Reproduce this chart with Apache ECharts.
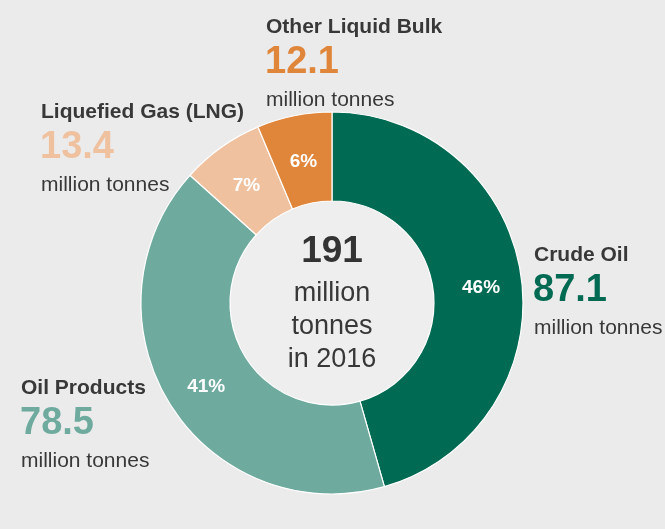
<!DOCTYPE html>
<html>
<head>
<meta charset="utf-8">
<script src="https://cdn.jsdelivr.net/npm/echarts@6/dist/echarts.min.js"></script>
<style>
  html, body { margin: 0; padding: 0; background: #ebebeb; }
  #chart { width: 665px; height: 529px; }
</style>
</head>
<body>
<div id="chart"></div>
<script>
const categories = ['Crude Oil', 'Oil Products', 'Liquefied Gas (LNG)', 'Other Liquid Bulk']
const values = [87.1, 78.5, 13.4, 12.1]
const colors = ['#006a52', '#6eab9e', '#efc19f', '#e0863b']
const unitText = 'million tonnes'
const totalText = '191'
const centerLines = ['million', 'tonnes', 'in 2016']

const chart = echarts.init(document.getElementById('chart'))
const FONT = '"Liberation Sans", Arial, sans-serif'

// where the outer label blocks sit (left edge, middle of the name line)
const labelPos = [
  [534, 255],
  [21, 388],
  [41, 112],
  [266, 27],
]

const graphics = []
categories.forEach((name, i) => {
  const [x, y] = labelPos[i]
  graphics.push({
    type: 'text', x: x, y: y, z: 100,
    style: { text: name, fill: '#383838', font: 'bold 21px ' + FONT, verticalAlign: 'middle' },
  })
  graphics.push({
    type: 'text', x: x - 1, y: y + 36, z: 100,
    style: { text: values[i].toFixed(1), fill: colors[i], font: 'bold 38px ' + FONT, verticalAlign: 'middle' },
  })
  graphics.push({
    type: 'text', x: x, y: y + 73, z: 100,
    style: { text: unitText, fill: '#383838', font: '21px ' + FONT, verticalAlign: 'middle' },
  })
})

// center text
graphics.push({
  type: 'text', x: 332, y: 252, z: 100,
  style: { text: totalText, fill: '#333', font: 'bold 37px ' + FONT, align: 'center', verticalAlign: 'middle' },
})
centerLines.forEach((t, i) => {
  graphics.push({
    type: 'text', x: 332, y: 294 + i * 33, z: 100,
    style: { text: t, fill: '#383838', font: '27px ' + FONT, align: 'center', verticalAlign: 'middle' },
  })
})

chart.setOption({
  backgroundColor: '#ebebeb',
  animation: false,
  series: [
    {
      type: 'pie',
      silent: true,
      center: [332, 303],
      radius: [0, 102],
      label: { show: false },
      labelLine: { show: false },
      data: [{ value: 1, itemStyle: { color: '#eeeeee' } }],
    },
    {
      type: 'pie',
      center: [332, 303],
      radius: [102, 191],
      startAngle: 90,
      clockwise: true,
      itemStyle: { borderColor: '#ffffff', borderWidth: 1.2 },
      label: {
        show: true,
        position: 'inside',
        color: '#ffffff',
        fontFamily: FONT,
        fontWeight: 'bold',
        fontSize: 19,
        offset: [1, 5],
        formatter: (p) => Math.round(p.percent) + '%',
      },
      labelLine: { show: false },
      data: categories.map((name, i) => ({
        name: name,
        value: values[i],
        itemStyle: { color: colors[i] },
      })),
    },
  ],
  graphic: graphics,
})
</script>
</body>
</html>
